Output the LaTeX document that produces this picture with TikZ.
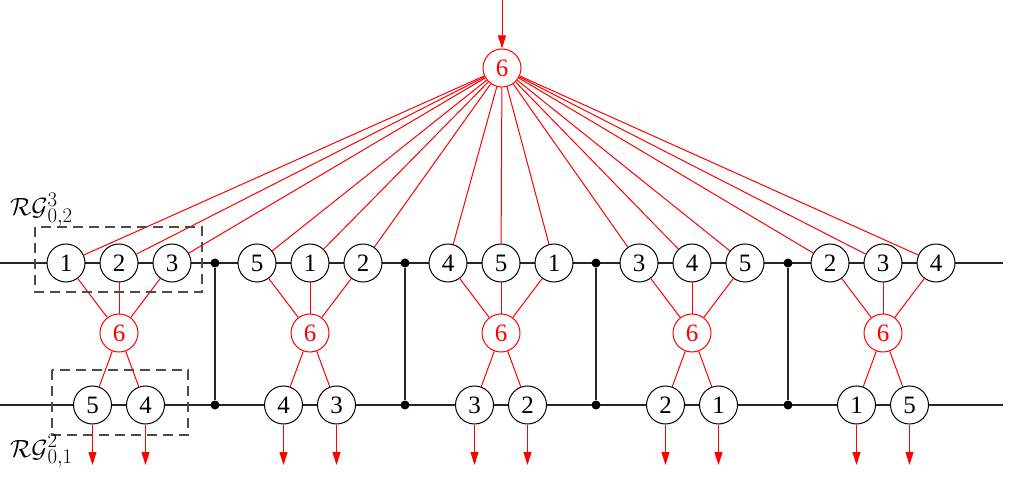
\documentclass[tikz,border=0pt]{standalone}
\usepackage{fontspec}
\setmainfont{Liberation Serif}
\usetikzlibrary{arrows.meta}
\begin{document}
\begin{tikzpicture}[x=1pt,y=-1pt,
  nd/.style={circle,draw=black,fill=white,line width=1pt,minimum size=38pt,inner sep=0pt,font=\fontsize{25}{28}\selectfont},
  rd/.style={nd,draw=red,text=red},
  bl/.style={line width=1.2pt,black!85},
  rl/.style={line width=1pt,red},
  ra/.style={rl,-{Triangle[length=13pt,width=8pt]}},
  dot/.style={circle,fill=black,inner sep=0pt,minimum size=9pt},
  dbox/.style={line width=1.2pt,black!70,dash pattern=on 10pt off 6pt},
  lbl/.style={font=\fontsize{28}{30}\selectfont,inner sep=0pt}]
\useasboundingbox (0,0) rectangle (1009,486);
% horizontal lines
\draw[bl] (0,263) -- (1003,263);
\draw[bl] (0,405) -- (1003,405);
% junctions
\foreach \k/\x in {1/215,2/405,3/596,4/788}{
  \node[dot] (jt\k) at (\x,263) {};
  \node[dot] (jb\k) at (\x,405) {};
  \draw[bl] (jt\k) -- (jb\k);
}
% top node
\node[rd] (top) at (502,68) {6};
\coordinate (src) at (502,0);
\draw[ra] (src) -- (top);
% groups
\foreach \k/\a/\b/\c/\d/\e in {1/1/2/3/5/4,2/5/1/2/4/3,3/4/5/1/3/2,4/3/4/5/2/1,5/2/3/4/1/5}{
  \pgfmathsetmacro{\gx}{119+191*(\k-1)}
  \node[nd] (t\k a) at (\gx-53,263) {\a};
  \node[nd] (t\k b) at (\gx,263) {\b};
  \node[nd] (t\k c) at (\gx+53,263) {\c};
  \node[rd] (m\k) at (\gx,333) {6};
  \node[nd] (b\k a) at (\gx-26.5,405) {\d};
  \node[nd] (b\k b) at (\gx+26.5,405) {\e};
  \coordinate (e\k a) at (\gx-26.5,465);
  \coordinate (e\k b) at (\gx+26.5,465);
  \foreach \s in {a,b,c}{
    \draw[rl] (m\k) -- (t\k\s);
    \draw[rl] (top) -- (t\k\s);
  }
  \foreach \s in {a,b}{
    \draw[rl] (m\k) -- (b\k\s);
    \draw[ra] (b\k\s) -- (e\k\s);
  }
}
% dashed boxes
\draw[dbox] (35,227) rectangle (202,292);
\draw[dbox] (52,370) rectangle (188,435);
% labels
\node[lbl,anchor=base west] (l1) at (10,216) {$\mathcal{RG}^{3}_{0,2}$};
\node[lbl,anchor=base west] (l2) at (10,457) {$\mathcal{RG}^{2}_{0,1}$};
\end{tikzpicture}
\end{document}
